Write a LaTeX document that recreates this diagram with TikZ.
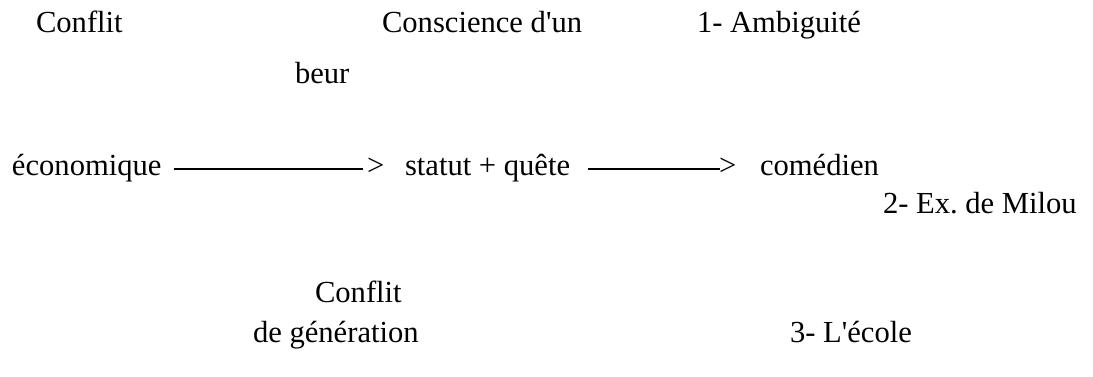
\documentclass[tikz,border=0pt]{standalone}
\usepackage{fontspec}
\setmainfont{Liberation Serif}[Ligatures=TeXOff]
\usetikzlibrary{calc}
\frenchspacing
\begin{document}
\begin{tikzpicture}[x=1pt,y=1pt,
  lbl/.style={anchor=base west,inner sep=0pt,outer sep=0pt,font=\fontsize{30.6}{36}\selectfont},
  dashline/.style={line width=1.3pt}]
\useasboundingbox (0,0) rectangle (1093,-376);
\node[lbl] (c1) at (36,-32) {Conflit};
\node[lbl] (c2) at (382,-32) {Conscience d'un};
\node[lbl] (c3) at (697,-32) {1- Ambiguité};
\node[lbl] (beur) at (295,-83) {beur};
\node[lbl] (eco) at (12,-175) {économique};
\node[lbl] (gt1) at (367,-175) {>};
\node[lbl] (stat) at (405,-175) {statut + quête};
\node[lbl] (gt2) at (719,-175) {>};
\node[lbl] (com) at (760,-175) {comédien};
\node[lbl] (ex) at (883,-213) {2- Ex. de Milou};
\node[lbl] (conf2) at (315,-302) {Conflit};
\node[lbl] (gen) at (253,-342) {de génération};
\node[lbl] (ecole) at (790,-342) {3- L'école};
\draw[dashline] ($(eco.base east)+(12,6)$) -- ($(gt1.base west)+(-4,6)$);
\draw[dashline] ($(stat.base east)+(18,6)$) -- ($(gt2.base west)+(1,6)$);
\end{tikzpicture}
\end{document}
